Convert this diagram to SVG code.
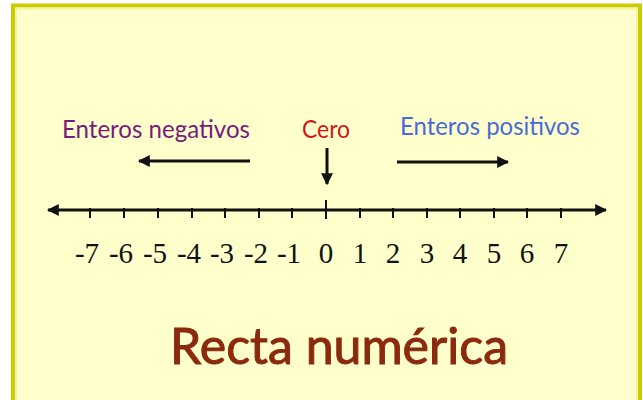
<svg xmlns="http://www.w3.org/2000/svg" width="643" height="400" viewBox="0 0 643 400">
<style>
.lab{font-family:"Lato","Noto Sans",sans-serif;font-size:25px;}
.num{font-family:"Liberation Serif",serif;font-size:29px;fill:#111;text-anchor:middle;}
.line{stroke:#111;stroke-width:3;fill:none;}
.tick{stroke:#111;stroke-width:2;}
</style>
<defs>
<marker id="ah" viewBox="0 0 10 10" refX="9" refY="5" markerWidth="4" markerHeight="4" orient="auto-start-reverse">
<path d="M0,0 L10,5 L0,10 z" fill="#111"/>
</marker>
</defs>
<rect x="0" y="0" width="643" height="400" fill="#ffffff"/>
<rect x="13" y="5.5" width="627" height="400" fill="#ffffcc" stroke="#cccc00" stroke-width="4"/>
<rect x="16" y="8.5" width="621" height="400" fill="none" stroke="#f4f4a0" stroke-width="2"/>

<g id="connectors">
<line class="line" x1="48" y1="210" x2="606" y2="210" marker-start="url(#ah)" marker-end="url(#ah)"/>
<line class="line" x1="250" y1="161" x2="139" y2="161" marker-end="url(#ah)"/>
<line class="line" x1="397" y1="162" x2="508" y2="162" marker-end="url(#ah)"/>
<line class="line" x1="327" y1="148" x2="327" y2="184" marker-end="url(#ah)"/>
</g>

<g id="ticks">
<line class="tick" x1="326" y1="200" x2="326" y2="219"/>
<line class="tick" x1="90" y1="208" x2="90" y2="218"/>
<line class="tick" x1="124" y1="208" x2="124" y2="218"/>
<line class="tick" x1="158" y1="208" x2="158" y2="218"/>
<line class="tick" x1="192" y1="208" x2="192" y2="218"/>
<line class="tick" x1="225" y1="208" x2="225" y2="218"/>
<line class="tick" x1="259" y1="208" x2="259" y2="218"/>
<line class="tick" x1="292" y1="208" x2="292" y2="218"/>
<line class="tick" x1="360" y1="208" x2="360" y2="218"/>
<line class="tick" x1="393" y1="208" x2="393" y2="218"/>
<line class="tick" x1="427" y1="208" x2="427" y2="218"/>
<line class="tick" x1="460" y1="208" x2="460" y2="218"/>
<line class="tick" x1="494" y1="208" x2="494" y2="218"/>
<line class="tick" x1="527" y1="208" x2="527" y2="218"/>
<line class="tick" x1="561" y1="208" x2="561" y2="218"/>
</g>

<g id="numbers">
<text class="num" x="87" y="263">-7</text>
<text class="num" x="121" y="263">-6</text>
<text class="num" x="155" y="263">-5</text>
<text class="num" x="189" y="263">-4</text>
<text class="num" x="222" y="263">-3</text>
<text class="num" x="256" y="263">-2</text>
<text class="num" x="289" y="263">-1</text>
<text class="num" x="326" y="263">0</text>
<text class="num" x="360" y="263">1</text>
<text class="num" x="393" y="263">2</text>
<text class="num" x="427" y="263">3</text>
<text class="num" x="460" y="263">4</text>
<text class="num" x="494" y="263">5</text>
<text class="num" x="527" y="263">6</text>
<text class="num" x="561" y="263">7</text>
</g>

<g id="negativos">
<text class="lab" x="62" y="138" fill="#7a1a7a" textLength="188" lengthAdjust="spacingAndGlyphs">Enteros negativos</text>
</g>
<g id="cero">
<text class="lab" x="302" y="138" fill="#d01818" textLength="48" lengthAdjust="spacingAndGlyphs">Cero</text>
</g>
<g id="positivos">
<text class="lab" x="400" y="135" fill="#4a6ad8" textLength="180" lengthAdjust="spacingAndGlyphs">Enteros positivos</text>
</g>
<g id="titulo">
<text x="170" y="364" font-family="Lato,'Noto Sans',sans-serif" font-size="50" fill="#8b2a0e" stroke="#8b2a0e" stroke-width="1" textLength="338" lengthAdjust="spacingAndGlyphs">Recta numérica</text>
</g>
</svg>
